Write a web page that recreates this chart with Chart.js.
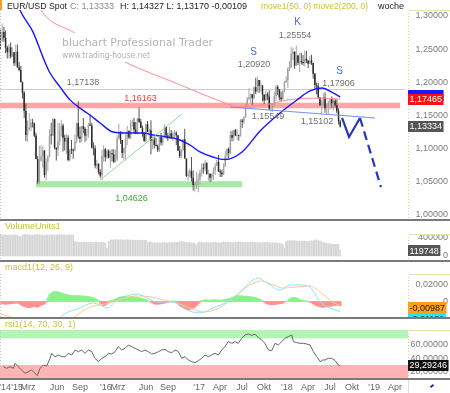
<!DOCTYPE html>
<html><head><meta charset="utf-8">
<script src="https://cdn.jsdelivr.net/npm/chart.js@4.4.1/dist/chart.umd.min.js"></script>
<style>
html,body{margin:0;padding:0;background:#fff}
#wrap{position:relative;width:450px;height:393px;overflow:hidden;background:#fff}
#wrap canvas{position:absolute;left:0}
.sep{position:absolute;left:0;width:450px;background:#7a7a7a}
</style></head><body><div id="wrap">
<canvas id="cMain" width="450" height="219" style="top:0"></canvas>
<div class="sep" style="top:219px;height:2px"></div>
<canvas id="cVol" width="450" height="39" style="top:221px"></canvas>
<div class="sep" style="top:260px;height:2px"></div>
<canvas id="cMacd" width="450" height="55" style="top:262px"></canvas>
<div class="sep" style="top:317px;height:2px"></div>
<canvas id="cRsi" width="450" height="74" style="top:319px"></canvas>
<div class="sep" style="top:378px;height:1.5px"></div>
<div style="position:absolute;left:0;top:0;width:2px;height:10px;background:#f0a030"></div>
<div style="position:absolute;left:408px;top:380px;width:42px;height:13px;border-left:1px solid #ddd"></div>
<div style="position:absolute;left:430px;top:385px;width:4px;height:2px;background:#2233aa;transform:rotate(-40deg)"></div>
</div>
<script>
// ---------- DATA (weekly EUR/USD, week 0 = week of 2014-10-06) ----------
const firstOpen = 1.2630;
const closes = [
1.2627,1.2760,1.2670,1.2525,1.2455,1.2527,1.2388,1.2452,1.2288,1.2463,
1.2227,1.2187,1.2002,1.1842,1.1566,1.1204,1.1291,1.1317,1.1387,1.1381,
1.1196,1.0844,1.0497,1.0822,1.0887,1.0970,1.0601,1.0807,1.0874,1.1199,
1.1198,1.1447,1.1014,1.0986,1.1109,1.1263,1.1349,1.1164,1.1106,1.1162,
1.0829,1.0985,1.0982,1.0968,1.1104,1.1385,1.1183,1.1150,1.1336,1.1299,
1.1195,1.1218,1.1358,1.1347,1.1017,1.1003,1.0740,1.0772,1.0647,1.0593,
1.0887,1.0990,1.0868,1.0967,1.0862,1.0930,1.0915,1.0797,1.0830,1.1155,
1.1255,1.1130,1.0933,1.1005,1.1156,1.1266,1.1166,1.1390,1.1399,1.1285,
1.1225,1.1455,1.1405,1.1310,1.1220,1.1115,1.1368,1.1250,1.1275,1.1120,
1.1137,1.1055,1.1040,1.0975,1.1175,1.1087,1.1165,1.1325,1.1197,1.1155,
1.1230,1.1154,1.1228,1.1240,1.1200,1.0970,1.0885,1.0980,1.1140,1.0850,
1.0587,1.0590,1.0665,1.0560,1.0450,1.0455,1.0520,1.0532,1.0642,1.0700,
1.0696,1.0785,1.0615,1.0618,1.0560,1.0620,1.0670,1.0740,1.0800,1.0650,
1.0640,1.0615,1.0727,1.0895,1.0995,1.0934,1.1205,1.1165,1.1280,1.1195,
1.1198,1.1195,1.1425,1.1400,1.1470,1.1665,1.1750,1.1775,1.1820,1.1760,
1.1925,1.1860,1.2035,1.1945,1.1950,1.1815,1.1725,1.1820,1.1785,1.1605,
1.1610,1.1665,1.1790,1.1930,1.1895,1.1770,1.1745,1.1870,1.2005,1.2030,
1.2200,1.2225,1.2425,1.2460,1.2250,1.2405,1.2295,1.2310,1.2305,1.2290,
1.2355,1.2325,1.2280,1.2330,1.2290,1.2130,1.1960,1.1940,1.1770,1.1655,
1.1660,1.1770,1.1610,1.1655,1.1685,1.1745,1.1685,1.1720,1.1655,1.1565,
1.1410,1.13333];
const highs = [
1.2791,1.2887,1.2838,1.2781,1.2550,1.2577,1.2600,1.2530,1.2456,1.2570,
1.2570,1.2305,1.2250,1.2010,1.1870,1.1680,1.1424,1.1534,1.1450,1.1450,
1.1390,1.1240,1.0888,1.1043,1.1052,1.1036,1.0980,1.0850,1.0900,1.1290,
1.1390,1.1467,1.1450,1.1015,1.1385,1.1385,1.1436,1.1380,1.1210,1.1215,
1.1200,1.0986,1.1129,1.1000,1.1214,1.1390,1.1714,1.1332,1.1340,1.1460,
1.1330,1.1290,1.1387,1.1495,1.1390,1.1095,1.1050,1.0830,1.0775,1.0690,
1.0980,1.1050,1.1010,1.0990,1.0990,1.0970,1.0990,1.0990,1.0985,1.1200,
1.1376,1.1260,1.1130,1.1020,1.1218,1.1340,1.1275,1.1430,1.1440,1.1465,
1.1400,1.1460,1.1616,1.1445,1.1350,1.1250,1.1375,1.1415,1.1300,1.1428,
1.1188,1.1185,1.1164,1.1060,1.1176,1.1235,1.1185,1.1366,1.1340,1.1240,
1.1327,1.1280,1.1260,1.1280,1.1260,1.1200,1.1040,1.0990,1.1145,1.1300,
1.0850,1.0670,1.0700,1.0875,1.0670,1.0490,1.0650,1.0620,1.0685,1.0775,
1.0775,1.0830,1.0790,1.0680,1.0630,1.0630,1.0715,1.0783,1.0830,1.0905,
1.0690,1.0680,1.0780,1.0960,1.1000,1.1020,1.1265,1.1268,1.1285,1.1295,
1.1296,1.1200,1.1445,1.1450,1.1490,1.1680,1.1780,1.1910,1.1830,1.1820,
1.1940,1.2070,1.2092,1.2035,1.2030,1.1960,1.1815,1.1880,1.1850,1.1880,
1.1690,1.1670,1.1860,1.1960,1.1960,1.1895,1.1860,1.1880,1.2020,1.2090,
1.2230,1.2323,1.2537,1.2520,1.2470,1.2555,1.2415,1.2445,1.2445,1.2413,
1.2475,1.2477,1.2340,1.2395,1.2415,1.2290,1.2140,1.1995,1.1990,1.1780,
1.1725,1.1840,1.1850,1.1680,1.1720,1.1760,1.1791,1.1745,1.1750,1.1745,
1.1610,1.14327];
const lows = [
1.2500,1.2613,1.2615,1.2440,1.2358,1.2358,1.2360,1.2380,1.2247,1.2247,
1.2220,1.2165,1.2000,1.1754,1.1460,1.1115,1.1098,1.1270,1.1260,1.1317,
1.1175,1.0840,1.0462,1.0463,1.0800,1.0713,1.0560,1.0520,1.0660,1.0870,
1.1060,1.1190,1.0990,1.0819,1.0887,1.1050,1.1180,1.0955,1.0970,1.0915,
1.0808,1.0808,1.0920,1.0848,1.0960,1.1080,1.1150,1.1087,1.1101,1.1230,
1.1105,1.1120,1.1160,1.1340,1.1000,1.0900,1.0705,1.0690,1.0615,1.0560,
1.0524,1.0800,1.0805,1.0850,1.0850,1.0710,1.0805,1.0780,1.0795,1.0810,
1.1150,1.1070,1.0860,1.0830,1.0822,1.1055,1.1144,1.1140,1.1330,1.1235,
1.1215,1.1215,1.1385,1.1310,1.1180,1.1100,1.1095,1.1250,1.1130,1.0912,
1.0988,1.1000,1.1030,1.0950,1.0950,1.1047,1.1045,1.1160,1.1150,1.1120,
1.1150,1.1150,1.1120,1.1150,1.1050,1.0965,1.0860,1.0850,1.0960,1.0850,
1.0570,1.0517,1.0560,1.0505,1.0367,1.0350,1.0390,1.0340,1.0453,1.0580,
1.0620,1.0660,1.0610,1.0520,1.0495,1.0495,1.0525,1.0600,1.0735,1.0650,
1.0570,1.0570,1.0600,1.0725,1.0850,1.0840,1.0920,1.1110,1.1110,1.1195,
1.1130,1.1120,1.1180,1.1310,1.1370,1.1470,1.1610,1.1730,1.1690,1.1660,
1.1740,1.1825,1.1860,1.1840,1.1860,1.1715,1.1670,1.1725,1.1730,1.1575,
1.1554,1.1555,1.1630,1.1715,1.1810,1.1730,1.1715,1.1735,1.1850,1.1990,
1.1915,1.2165,1.2220,1.2335,1.2205,1.2245,1.2260,1.2155,1.2270,1.2255,
1.2240,1.2290,1.2215,1.2280,1.2260,1.2055,1.1910,1.1820,1.1750,1.1645,
1.1510,1.1640,1.1540,1.1510,1.1525,1.1590,1.1610,1.1575,1.1620,1.1530,
1.1365,1.13170];
const volumes = [
455000,462000,458000,465000,450000,460000,456000,459000,464000,461000,
457000,432000,420000,458000,470000,472000,465000,460000,456000,458000,
462000,466000,470000,464000,459000,455000,450000,460000,458000,462000,
464000,460000,456000,459000,461000,463000,465000,460000,458000,456000,
462000,459000,460000,457000,
315000,300000,305000,297000,295000,300000,303000,295000,299000,301000,
297000,295000,300000,298000,295000,293000,297000,295000,285000,
170000,
325000,350000,355000,353000,360000,355000,350000,357000,355000,345000,
351000,355000,347000,343000,350000,345000,340000,347000,343000,345000,
341000,337000,343000,
300000,295000,310000,290000,292000,288000,290000,286000,288000,292000,
295000,290000,288000,292000,290000,288000,295000,300000,305000,310000,
315000,308000,300000,295000,298000,292000,290000,288000,270000,240000,
290000,300000,298000,295000,292000,296000,294000,290000,292000,295000,
298000,293000,290000,288000,292000,310000,305000,300000,304000,298000,
295000,292000,298000,300000,303000,305000,302000,300000,298000,296000,
300000,304000,302000,299000,296000,294000,292000,290000,295000,298000,
296000,294000,290000,292000,288000,286000,290000,285000,282000,270000,
260000,
170000,
315000,330000,335000,337000,333000,335000,330000,325000,327000,323000,
325000,321000,320000,323000,325000,330000,335000,345000,355000,340000,
325000,315000,
295000,285000,275000,270000,265000,260000,255000,257000,253000,250000,
119748];
const histogram = [
-0.002,-0.003,-0.003,-0.0035,-0.003,-0.003,-0.0028,-0.0025,-0.0022,
-0.002,-0.0018,-0.0025,
-0.004,-0.005,-0.006,-0.0068,-0.0072,-0.0075,-0.007,-0.0065,-0.006,-0.0065,
-0.007,-0.006,-0.0045,-0.004,-0.003,
-0.001,
0.004,0.008,0.010,0.0115,0.012,0.0118,0.012,0.011,0.0105,
0.0095,0.009,0.0085,0.008,0.0075,
0.007,0.0072,0.0068,0.007,0.0073,0.007,0.0068,0.0066,0.0065,0.0062,0.006,
0.0055,0.005,0.0045,0.0035,0.0025,
0.001,
-0.002,-0.004,-0.005,-0.0045,-0.003,
-0.001,0.001,0.0015,0.002,
0.003,0.004,0.005,0.0055,0.006,0.0062,0.006,0.0058,0.0055,0.0058,0.006,0.0055,0.005,0.0048,0.0045,0.004,0.0035,0.003,0.002,
0.001,0,-0.001,
-0.002,-0.003,-0.0032,-0.0035,-0.003,-0.0028,-0.0025,-0.002,-0.0015,
-0.001,-0.0005,0.0005,0.0008,0.0003,-0.001,
-0.003,-0.005,-0.0065,-0.0075,-0.009,-0.0095,-0.01,-0.0095,-0.009,-0.008,-0.007,-0.005,-0.003,
-0.001,0.001,0.0015,0.002,0.002,0.0018,0.0015,0.0018,0.002,0.0022,0.002,0.0018,0.0015,0.0018,0.002,0.0025,0.003,0.0035,
0.004,0.005,0.0058,0.0063,0.0068,0.007,0.007,0.0068,0.0065,0.0065,0.0062,0.006,0.0058,0.0055,0.005,0.0045,0.004,0.003,0.002,0.001,
-0.001,-0.002,-0.003,-0.0035,-0.004,-0.004,-0.0038,-0.0035,-0.003,-0.0028,-0.0025,-0.002,-0.001,0,
0.001,0.003,0.004,0.005,0.005,0.0045,0.0035,0.0025,
0.0015,0.001,0.0008,0.0005,0.0002,-0.0005,
-0.0015,-0.003,-0.004,-0.005,-0.006,-0.0065,-0.007,-0.007,-0.0068,-0.0065,-0.006,-0.0058,-0.0055,-0.005,-0.0048,-0.0045,-0.0045,-0.005];
const ma50Weeks  = [8,11.5,19.2,25.1,29.3,35.2,41.1,47.0,53.0,58.9,66.6,74.9,84.3,90.2,98.5,106.2,112.1,118.0,125.7,132.8,142.9,153.6,165.4,175.4,183.1,190.2,196.7,201];
const ma50Values = [1.335,1.309,1.276,1.238,1.214,1.193,1.1735,1.161,1.1505,1.1386,1.125,1.1235,1.1235,1.1205,1.1175,1.113,1.1054,1.095,1.0873,1.0835,1.0949,1.1266,1.1537,1.1733,1.1869,1.1914,1.1839,1.1778];
const ma200Weeks  = [20,25.1,42.9,74.9,102.1,132.8,139.9,149.4,159.5,169.5,179,189.1,201];
const ma200Values = [1.33,1.3045,1.2759,1.2291,1.2005,1.1688,1.1627,1.1643,1.1673,1.1733,1.1755,1.1762,1.17465];
const macdWeeks  = [0,8,16,22,28,33,37,47,54.7,58.9,63,68.9,76.6,80.8,86.7,92.6,98.5,104.4,110.4,118,125.7,134,141.7,149.4,152.4,157.7,165.4,171.3,177.2,183.1,189.1,195,201];
const macdValues = [-0.022,-0.026,-0.036,-0.045,-0.038,-0.026,-0.0164,-0.0079,-0.0018,-0.0042,-0.0079,0.0018,0.0079,0.0091,0.0042,-0.0006,-0.0006,-0.0018,-0.0103,-0.0139,-0.0079,-0.0006,0.0115,0.0261,0.0285,0.0224,0.0139,0.02,0.02,0.0176,-0.0006,-0.0079,-0.0124];
const signalWeeks  = [0,10,20,28,36,40,45.3,53,58.9,66.6,80.8,88.5,96.2,104.4,112.1,119.8,128.1,137.6,147.6,154.7,161.2,167.2,175.4,183.1,189.1,196.7,201];
const signalValues = [-0.015,-0.022,-0.033,-0.038,-0.032,-0.024,-0.0164,-0.0067,-0.0042,-0.0006,0.0067,0.0058,0.0018,-0.0018,-0.0079,-0.0127,-0.0091,0.0042,0.02,0.0248,0.02,0.0164,0.0176,0.0188,0.0115,-0.0006,-0.0055];
const rsiWeeks = [1.7,3.6,5.6,7.6,8.6,10.5,12.5,14.5,16.5,18.4,20.4,21.8,23.4,25.3,27.3,29.3,30.3,32.2,34.2,36.2,38.2,40.1,42.1,44.1,46.1,48.0,50.0,52.0,54.0,55.9,57.9,59.9,61.8,63.8,65.8,67.8,69.7,71.7,73.7,75.6,77.6,79.6,81.6,83.5,85.5,87.5,89.4,91.4,93.4,95.4,97.3,99.3,101.3,103.3,105.2,107.2,109.2,111.1,113.1,115.1,117.1,119.0,121.0,123.0,124.9,126.9,128.9,130.9,132.8,134.8,136.8,138.8,140.7,142.7,144.7,146.6,148.6,150.6,152.6,154.5,156.5,158.5,160.5,162.4,164.4,166.4,168.3,170.3,172.3,173.3,175.3,177.2,179.2,181.2,183.2,185.1,187.1,189.1,190.6,192.0,194.0,196.0,198.0,199.9,201];
const rsiValues = [27.5,25,27.5,25,32.5,27.5,22.5,17.5,20,22.5,17.5,14,25,30,28.5,40,47.5,42.5,45,42.5,42.5,47.5,45,52.5,50,52.5,47.5,52.5,50,40,35,40,42.5,47.5,46.5,50,57.5,52.5,55,60,57.5,55,52.5,50,52.5,50,46.5,47.5,50,52.5,53.5,50,48.5,52.5,50,40,42.5,37.5,35,33.5,36.5,40,45,42.5,45,47.5,45,52.5,57.5,65,62.5,65,62.5,70,75,76.5,74.5,76,71.5,67.5,62.5,52.5,51.5,62.5,60,65,70,72.5,75,65,63.5,62.5,62.5,61.5,60,50,42.5,35,37.5,37.5,40,40,36.5,30,29.29246];
const priceTicks = [1.00,1.05,1.10,1.15,1.20,1.25,1.30];
const volTicks = [0,400000];
const macdTicks = [0,0.02];
const rsiTicks = [20,40,60];
const xTickWeeks  = [2.7,9.8,16.3,33.4,47.0,62.4,69.5,86.1,99.1,117.5,129.9,142.9,155.9,169.5,181.9,195.0,208.0,221.0,233.4];
const xTickLabels = ["'14","'15","Mrz","Jun","Sep","'16","Mrz","Jun","Sep","'17","Apr","Jul","Okt","'18","Apr","Jul","Okt","'19","Apr"];
// annotations (levels, lines, labels) in data units
const resistanceLevel = 1.16163, supportLevel = 1.04626, upperLevel = 1.19;
const levelEndWeek = 236.4;
const supportSpan = [21, 143];
const trendLine = [[58.9,1.0526],[107.4,1.1522]];
const neckline  = [[135.8,1.1627],[221.6,1.1462]];
const forecast  = [[202.1,1.1462],[206.2,1.1175],[212.7,1.1462],[225.1,1.042]];
const valueNotes = [["1,17138",48.8,1.1997],["1,20920",150.0,1.2261],["1,25554",174.3,1.2713],["1,17906",200.0,1.1982],["1,15549",158.3,1.1484],["1,15102",187.3,1.1409]];
const shapeNotes = [["S",149.7,1.2457],["K",175.7,1.2910],["S",200.6,1.2163]];
const levelNotes = [["1,16163",82.8,1.1756,'#e8413a'],["1,04626",77.5,1.0247,'#3cab3c']];
const lastQuote = 1.13334, macdTag = -0.00987, macdTag2 = -0.01181, dayChange = "-0,00109";

// ---------- STYLE / LAYOUT ----------
const FONT = '"Liberation Sans", Arial, sans-serif';
Chart.defaults.font.family = FONT;
const X_MIN = -0.3, X_MAX = 241.1;
const fmt = (v,d)=>v.toFixed(d).replace('.',',');
const UP='#a2a2a2', DOWN='#2a2a2a', WICK_UP='#a8a8a8', WICK_DOWN='#555';
const AXC='#7d7d7d';

function xAxis(show){
  return {type:'linear',min:X_MIN,max:X_MAX,display:show,offset:false,
    afterBuildTicks:s=>{s.ticks=xTickWeeks.map(v=>({value:v}));},
    afterFit:s=>{ if(show) s.height=15; s.paddingLeft=0; s.paddingRight=0; },
    grid:{display:false,drawTicks:false}, border:{display:false},
    ticks:{autoSkip:false,maxRotation:0,minRotation:0,padding:4,font:{size:9},color:'#666',
      callback:(v,i)=>xTickLabels[i]}};
}
function yAxis(min,max,ticks,f){
  return {position:'right',min,max,
    afterFit:s=>{s.width=40; s.paddingTop=0; s.paddingBottom=0;},
    afterBuildTicks:s=>{s.ticks=ticks.map(v=>({value:v}));},
    grid:{display:false,drawTicks:false}, border:{display:false},
    ticks:{font:{size:9},color:AXC,crossAlign:'far',padding:0,callback:f}};
}
function base(top){
  return {responsive:false,animation:false,devicePixelRatio:1,events:[],
    layout:{padding:{top:top,right:2,left:0,bottom:0}},
    plugins:{legend:{display:false},tooltip:{enabled:false}}};
}
function axisFrame(chart){
  const ctx=chart.ctx,a=chart.chartArea;
  ctx.save();
  ctx.strokeStyle='#ecc98a'; ctx.lineWidth=1;
  ctx.setLineDash([1,2]); ctx.beginPath(); ctx.moveTo(a.right+0.5,a.top); ctx.lineTo(a.right+0.5,a.bottom); ctx.stroke();
  ctx.setLineDash([]); ctx.strokeStyle='#f3dcae'; ctx.beginPath(); ctx.moveTo(a.right,a.top+0.5); ctx.lineTo(450,a.top+0.5); ctx.stroke();
  ctx.strokeStyle='#c4c4c4'; ctx.setLineDash([1,2]); ctx.beginPath(); ctx.moveTo(0.5,a.top); ctx.lineTo(0.5,a.bottom); ctx.stroke();
  ctx.restore();
}
function tag(chart,y,text,bg,fg){
  const ctx=chart.ctx,x0=chart.chartArea.right;
  ctx.save(); ctx.font='9px '+FONT;
  const w=ctx.measureText(text).width+3;
  ctx.fillStyle=bg; ctx.fillRect(x0,Math.round(y-5.5),w,11);
  ctx.fillStyle=fg; ctx.textBaseline='middle'; ctx.textAlign='left';
  ctx.fillText(text,x0+1.5,y+0.5); ctx.restore();
}
function title(chart,text,y){
  const ctx=chart.ctx; ctx.save(); ctx.font='9px '+FONT; ctx.fillStyle='#c9c431';
  ctx.textBaseline='middle'; ctx.fillText(text,5,y); ctx.restore();
}

// ---------- MAIN PRICE CHART ----------
const idx = closes.map((_,i)=>i);
const opens = closes.map((c,i)=> i===0 ? firstOpen : closes[i-1]);
const isUp = closes.map((c,i)=> c>=opens[i]);

const mainDeco = {
  id:'mainDeco',
  beforeDatasetsDraw(chart){
    const ctx=chart.ctx,x=chart.scales.x,y=chart.scales.y;
    ctx.save();
    ctx.fillStyle='#cdcdcd'; ctx.fillRect(0,Math.round(y.getPixelForValue(upperLevel)),x.getPixelForValue(levelEndWeek)+5,1);
    const yr=y.getPixelForValue(resistanceLevel);
    ctx.fillStyle='#ffa5a5'; ctx.fillRect(0,yr-5,x.getPixelForValue(levelEndWeek),5.5);
    const ys=y.getPixelForValue(supportLevel), xs0=x.getPixelForValue(supportSpan[0]), xs1=x.getPixelForValue(supportSpan[1]);
    ctx.fillStyle='#a5e9a5'; ctx.fillRect(xs0,ys-3,xs1-xs0,6);
    ctx.restore();
  },
  afterDatasetsDraw(chart){
    const ctx=chart.ctx,x=chart.scales.x,y=chart.scales.y;
    const X=w=>x.getPixelForValue(w), Y=v=>y.getPixelForValue(v);
    ctx.save();
    const line=(pts,color,width,dash)=>{ctx.beginPath();ctx.strokeStyle=color;ctx.lineWidth=width;ctx.setLineDash(dash||[]);
      pts.forEach((p,i)=> i?ctx.lineTo(X(p[0]),Y(p[1])):ctx.moveTo(X(p[0]),Y(p[1]))); ctx.stroke();};
    line(trendLine,'#8fdf8f',1);
    line(neckline,'#6f8ff5',1);
    line(forecast.slice(0,3),'#2537c2',2.2);
    line(forecast.slice(2),'#2537c2',2.2,[9,5]);
    ctx.setLineDash([]);
    // watermark
    ctx.fillStyle='#fff'; ctx.fillRect(60,33,156,29);
    ctx.fillStyle='#b3b3b3'; ctx.textBaseline='middle'; ctx.textAlign='left';
    ctx.font='11px "DejaVu Sans", Verdana, sans-serif'; ctx.fillText('bluchart Professional Trader',62,43,151);
    ctx.font='9px "DejaVu Sans", Verdana, sans-serif'; ctx.fillText('www.trading-house.net',62,56,88);
    // labels
    ctx.textAlign='center';
    ctx.font='9px '+FONT; ctx.fillStyle='#6e6e6e';
    valueNotes.forEach(n=>ctx.fillText(n[0],X(n[1]),Y(n[2])));
    levelNotes.forEach(n=>{ctx.fillStyle=n[3];ctx.fillText(n[0],X(n[1]),Y(n[2]));});
    ctx.font='10px '+FONT; ctx.fillStyle='#4b6fd6';
    shapeNotes.forEach(n=>ctx.fillText(n[0],X(n[1]),Y(n[2])));
    ctx.restore();
  },
  afterDraw(chart){
    const ctx=chart.ctx,y=chart.scales.y;
    axisFrame(chart);
    ctx.save(); ctx.font='9px '+FONT; ctx.textBaseline='middle'; ctx.textAlign='left';
    const last=closes.length-1;
    const segs=[['EUR/USD Spot',7,60,'#222'],['C: '+fmt(closes[last],5),70,48,'#8c8c8c'],
      ['H: '+fmt(highs[last],5)+' L: '+fmt(lows[last],5)+' '+dayChange,120,138,'#222'],
      ['move1(50, 0) move2(200, 0)',261,107,'#c9c431'],['woche',378,27,'#222']];
    segs.forEach(s=>{ctx.fillStyle=s[3];ctx.fillText(s[0],s[1],6.5,s[2]);});
    ctx.restore();
    tag(chart,y.getPixelForValue(ma50Values[ma50Values.length-1])-1.5,'1,18000','#1a1aff','#1a1aff');
    tag(chart,y.getPixelForValue(ma200Values[ma200Values.length-1]),fmt(ma200Values[ma200Values.length-1],5),'#ff1010','#fff');
    tag(chart,y.getPixelForValue(lastQuote),fmt(lastQuote,5),'#555','#fff');
  }
};

new Chart(document.getElementById('cMain'),{
  type:'bar',
  data:{datasets:[
    {type:'line',data:ma50Weeks.map((w,i)=>({x:w,y:ma50Values[i]})),borderColor:'#1616ff',borderWidth:1.4,pointRadius:0,cubicInterpolationMode:'monotone'},
    {type:'line',data:ma200Weeks.map((w,i)=>({x:w,y:ma200Values[i]})),borderColor:'#ff8c8c',borderWidth:1,pointRadius:0,cubicInterpolationMode:'monotone'},
    {type:'bar',data:idx.map(i=>({x:i,y:[opens[i],closes[i]]})),backgroundColor:isUp.map(u=>u?UP:DOWN),barThickness:1.5,grouped:false,minBarLength:1,inflateAmount:0},
    {type:'bar',data:idx.map(i=>({x:i,y:[lows[i],highs[i]]})),backgroundColor:isUp.map(u=>u?WICK_UP:WICK_DOWN),barThickness:1,grouped:false,inflateAmount:0}
  ]},
  options:Object.assign(base(10),{scales:{x:xAxis(false),y:yAxis(0.99382,1.30905,priceTicks,v=>fmt(v,5))}}),
  plugins:[mainDeco]
});

// ---------- VOLUME ----------
new Chart(document.getElementById('cVol'),{
  type:'bar',
  data:{datasets:[{data:idx.map(i=>({x:i,y:volumes[i]})),backgroundColor:'#d6d6d6',barThickness:1,grouped:false}]},
  options:Object.assign(base(13),{scales:{x:xAxis(false),y:yAxis(-87432,480874,volTicks,v=>String(v))}}),
  plugins:[{id:'volDeco',afterDraw(chart){axisFrame(chart);title(chart,'VolumeUnits1',5.5);
    const v=volumes[volumes.length-1]; tag(chart,chart.scales.y.getPixelForValue(v),String(v),'#555','#fff');}}]
});

// ---------- MACD ----------
new Chart(document.getElementById('cMacd'),{
  type:'bar',
  data:{datasets:[
    {type:'line',data:macdWeeks.map((w,i)=>({x:w,y:macdValues[i]})),borderColor:'#86e4f7',borderWidth:1,pointRadius:0,cubicInterpolationMode:'monotone'},
    {type:'line',data:signalWeeks.map((w,i)=>({x:w,y:signalValues[i]})),borderColor:'#ffc98f',borderWidth:1,pointRadius:0,cubicInterpolationMode:'monotone'},
    {type:'bar',data:idx.map(i=>({x:i,y:histogram[i]})),backgroundColor:histogram.map(v=>v>=0?'#8cf08c':'#ff9191'),barThickness:2,grouped:false}
  ]},
  options:Object.assign(base(12),{scales:{x:xAxis(false),y:yAxis(-0.018788,0.033333,macdTicks,v=>v===0?'0':fmt(v,5))}}),
  plugins:[{id:'macdDeco',afterDraw(chart){axisFrame(chart);title(chart,'macd1(12, 26, 9)',6);
    const y=chart.scales.y;
    tag(chart,y.getPixelForValue(macdTag)+9,fmt(macdTag2,5),'#2ee0f0','#333');
    tag(chart,y.getPixelForValue(macdTag)-2,fmt(macdTag,5),'#ff9e1a','#222');}}]
});

// ---------- RSI ----------
const RSI_MIN=10.51, RSI_MAX=82.47;
new Chart(document.getElementById('cRsi'),{
  type:'line',
  data:{datasets:[{data:rsiWeeks.map((w,i)=>({x:w,y:rsiValues[i]})),borderColor:'#666',borderWidth:1,pointRadius:0,tension:0}]},
  options:Object.assign(base(11),{scales:{x:xAxis(true),y:yAxis(RSI_MIN,RSI_MAX,rsiTicks,v=>fmt(v,5))}}),
  plugins:[{id:'rsiDeco',
    beforeDatasetsDraw(chart){const ctx=chart.ctx,a=chart.chartArea,y=chart.scales.y;
      ctx.save(); ctx.fillStyle='#b3f5b3'; const y70=y.getPixelForValue(70); ctx.fillRect(a.left,a.top,a.right-a.left,y70-a.top);
      ctx.fillStyle='#ffb3b3'; const y30=y.getPixelForValue(30); ctx.fillRect(a.left,y30,a.right-a.left,a.bottom-y30); ctx.restore();},
    afterDraw(chart){axisFrame(chart);title(chart,'rsi1(14, 70, 30, 1)',6);
      const v=rsiValues[rsiValues.length-1]; tag(chart,chart.scales.y.getPixelForValue(v),fmt(v,5),'#111','#fff');}}]
});
</script></body></html>
